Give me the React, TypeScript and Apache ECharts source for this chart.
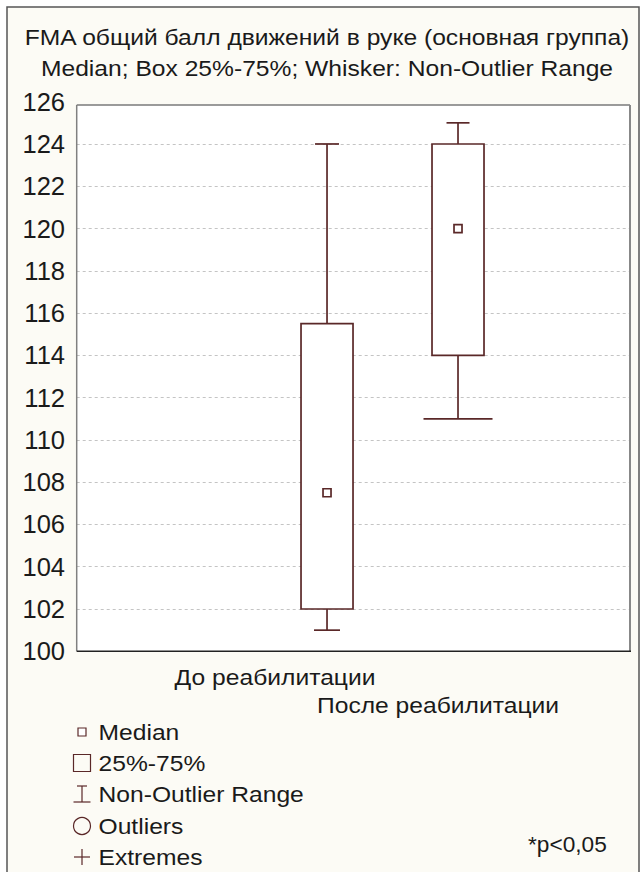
import React, { useEffect, useRef } from "react";
import * as echarts from "echarts";

// ---- data ----
const categories = ["До реабилитации", "После реабилитации"];
const whiskerLow = [101, 111];
const quartile1 = [102, 114];
const medians = [107.5, 120];
const quartile3 = [115.5, 124];
const whiskerHigh = [124, 125];
const yMin = 100;
const yMax = 126;
const yStep = 2;
const titleLines = [
  "FMA общий балл движений в руке (основная группа)",
  "Median; Box 25%-75%; Whisker: Non-Outlier Range",
];
const legendLabels = ["Median", "25%-75%", "Non-Outlier Range", "Outliers", "Extremes"];
const note = "*p<0,05";

// ---- styles ----
const FONT = "Liberation Sans";
const TICK_FONT = "'Liberation Sans Narrow', 'Liberation Sans'";
const MAROON = "#5a2828";
const CREAM = "#fcfbf5";
const TEXT_SX = 1.12;
const capTopW = [24, 23];
const capBotW = [26, 69];
const catLabelPos = [
  [275, 677],
  [438, 705],
];

export default function App() {
  const ref = useRef<HTMLDivElement>(null);
  useEffect(() => {
    if (!ref.current) return;
    const chart = echarts.init(ref.current, undefined, { renderer: "svg" });

    const boxData = categories.map((_, i) => [
      i + 1,
      whiskerLow[i],
      quartile1[i],
      medians[i],
      quartile3[i],
      whiskerHigh[i],
      i,
    ]);

    const plotL = 76.7,
      plotR = 630,
      plotT = 105,
      plotB = 651.3;

    const legendY = [732, 763, 794, 826, 857];
    const legendGraphics: any[] = [];
    legendLabels.forEach((lab, i) => {
      legendGraphics.push({
        type: "text",
        x: 98.5,
        y: legendY[i],
        scaleX: TEXT_SX,
        style: {
          text: lab,
          fontFamily: FONT,
          fontSize: 22,
          fill: "#1a1a1a",
          textVerticalAlign: "middle",
        },
      });
    });
    const mx = 82;
    legendGraphics.push(
      { type: "rect", shape: { x: mx - 4, y: legendY[0] - 4, width: 8, height: 8 }, style: { fill: "#fff", stroke: MAROON, lineWidth: 1.2 } },
      { type: "rect", shape: { x: mx - 8.5, y: legendY[1] - 8.5, width: 17, height: 17 }, style: { fill: "none", stroke: MAROON, lineWidth: 1.2 } },
      { type: "line", shape: { x1: mx, y1: legendY[2] - 8, x2: mx, y2: legendY[2] + 8 }, style: { stroke: MAROON, lineWidth: 1.2 } },
      { type: "line", shape: { x1: mx - 5, y1: legendY[2] - 8, x2: mx + 5, y2: legendY[2] - 8 }, style: { stroke: MAROON, lineWidth: 1.2 } },
      { type: "line", shape: { x1: mx - 8.5, y1: legendY[2] + 8, x2: mx + 8.5, y2: legendY[2] + 8 }, style: { stroke: MAROON, lineWidth: 1.2 } },
      { type: "circle", shape: { cx: mx, cy: legendY[3], r: 8.5 }, style: { fill: "none", stroke: MAROON, lineWidth: 1.2 } },
      { type: "line", shape: { x1: mx - 8, y1: legendY[4], x2: mx + 8, y2: legendY[4] }, style: { stroke: MAROON, lineWidth: 1.2 } },
      { type: "line", shape: { x1: mx, y1: legendY[4] - 8, x2: mx, y2: legendY[4] + 8 }, style: { stroke: MAROON, lineWidth: 1.2 } }
    );

    const option: any = {
      animation: false,
      backgroundColor: "#ffffff",
      grid: {
        left: plotL,
        right: 644 - plotR,
        top: 101.7,
        bottom: 872 - plotB,
        show: false,
      },
      xAxis: {
        type: "value",
        min: -0.911,
        max: 3.313,
        show: false,
      },
      yAxis: {
        type: "value",
        min: yMin,
        max: yMax,
        interval: yStep,
        axisLine: { show: false },
        axisTick: { show: false },
        axisLabel: {
          fontFamily: TICK_FONT,
          fontSize: 25.5,
          color: "#1a1a1a",
          margin: 11.7,
        },
        splitLine: {
          show: true,
          showMinLine: false,
          showMaxLine: false,
          lineStyle: { color: "#c4c4c4", type: [3, 3], width: 1 },
        },
      },
      graphic: [
        {
          type: "rect",
          z: -10,
          shape: { x: 7, y: 7, width: 632, height: 880 },
          style: { fill: CREAM, stroke: "#555", lineWidth: 1.5 },
        },
        {
          type: "rect",
          z: -9,
          shape: { x: plotL, y: plotT, width: plotR - plotL, height: plotB - plotT },
          style: { fill: "#ffffff" },
        },
        { type: "line", z: 10, shape: { x1: plotL, y1: plotT, x2: plotL, y2: plotB }, style: { stroke: "#808080", lineWidth: 1.5 } },
        { type: "line", z: 10, shape: { x1: plotL, y1: plotT, x2: plotR, y2: plotT }, style: { stroke: "#7a7a7a", lineWidth: 1.5 } },
        { type: "line", z: 10, shape: { x1: plotR, y1: plotT, x2: plotR, y2: plotB }, style: { stroke: "#888", lineWidth: 2 } },
        { type: "line", z: 10, shape: { x1: plotL, y1: plotB, x2: plotR + 1, y2: plotB }, style: { stroke: "#222", lineWidth: 1.5 } },
        ...titleLines.map((t, i) => ({
          type: "text",
          x: 327,
          y: 37 + i * 31,
          scaleX: TEXT_SX,
          style: {
            text: t,
            fontFamily: FONT,
            fontSize: 22,
            fill: "#1a1a1a",
            textAlign: "center",
            textVerticalAlign: "middle",
          },
        })),
        ...categories.map((c, i) => ({
          type: "text",
          x: catLabelPos[i][0],
          y: catLabelPos[i][1],
          scaleX: TEXT_SX,
          style: {
            text: c,
            fontFamily: FONT,
            fontSize: 22,
            fill: "#1a1a1a",
            textAlign: "center",
            textVerticalAlign: "middle",
          },
        })),
        {
          type: "text",
          x: 528,
          y: 845,
          scaleX: 1.03,
          style: {
            text: note,
            fontFamily: FONT,
            fontSize: 22,
            fill: "#1a1a1a",
            textVerticalAlign: "middle",
          },
        },
        ...legendGraphics,
      ],
      series: [
        {
          type: "custom",
          data: boxData,
          z: 5,
          renderItem: (params: any, api: any) => {
            const x = api.value(0);
            const idx = api.value(6);
            const pLow = api.coord([x, api.value(1)]);
            const pQ1 = api.coord([x, api.value(2)]);
            const pMed = api.coord([x, api.value(3)]);
            const pQ3 = api.coord([x, api.value(4)]);
            const pHigh = api.coord([x, api.value(5)]);
            const cx = pQ1[0];
            const bw = 52;
            const ls = { stroke: MAROON, lineWidth: 1.7, fill: "none" };
            const tw = capTopW[idx] / 2;
            const bwc = capBotW[idx] / 2;
            return {
              type: "group",
              children: [
                { type: "line", shape: { x1: cx, y1: pQ3[1], x2: cx, y2: pHigh[1] }, style: ls },
                { type: "line", shape: { x1: cx - tw, y1: pHigh[1], x2: cx + tw, y2: pHigh[1] }, style: ls },
                { type: "line", shape: { x1: cx, y1: pQ1[1], x2: cx, y2: pLow[1] }, style: ls },
                { type: "line", shape: { x1: cx - bwc, y1: pLow[1], x2: cx + bwc, y2: pLow[1] }, style: ls },
                {
                  type: "rect",
                  shape: { x: cx - bw / 2, y: pQ3[1], width: bw, height: pQ1[1] - pQ3[1] },
                  style: { fill: "#ffffff", stroke: MAROON, lineWidth: 1.7 },
                },
                {
                  type: "rect",
                  shape: { x: cx - 4, y: pMed[1] - 4, width: 8, height: 8 },
                  style: { fill: "#ffffff", stroke: MAROON, lineWidth: 1.7 },
                },
              ],
            };
          },
        },
      ],
    };
    chart.setOption(option);
    return () => chart.dispose();
  }, []);

  return (
    <div
      ref={ref}
      style={{ position: "absolute", left: 0, top: 0, width: 644, height: 872 }}
    />
  );
}
